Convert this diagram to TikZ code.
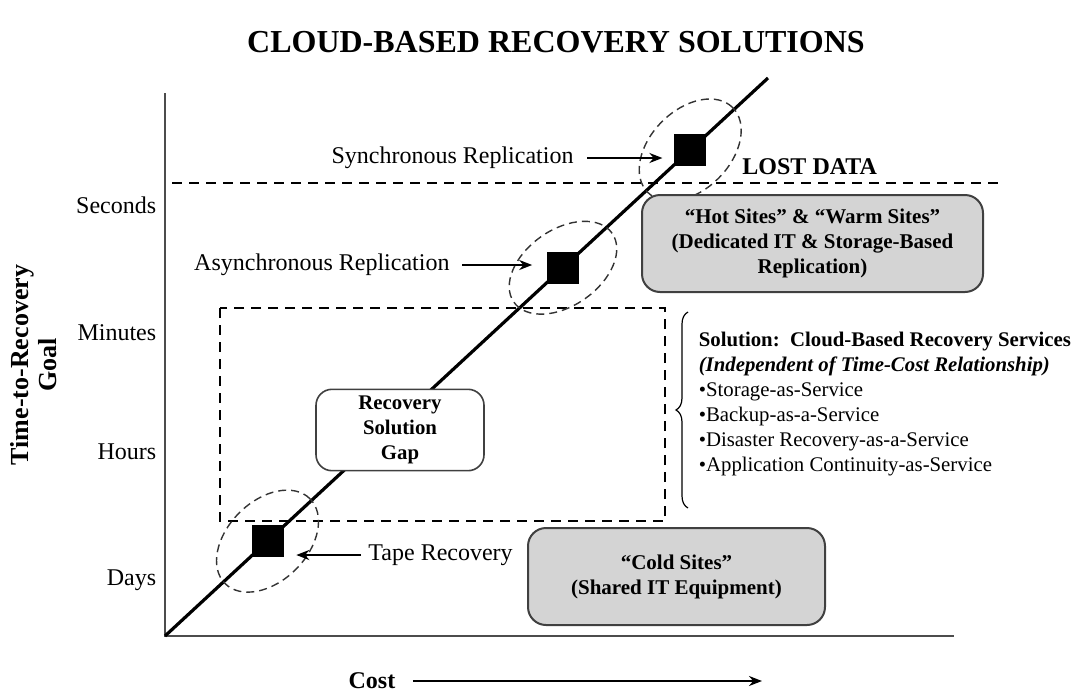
\documentclass[tikz,border=0pt]{standalone}
\usepackage{fontspec}
\setmainfont{Liberation Serif}
\usetikzlibrary{arrows,arrows.meta,positioning,decorations.pathreplacing}

\begin{document}
\begin{tikzpicture}[
    x=0.5pt, y=-0.5pt,
    thick,
    lbl/.style={font=\fontsize{12}{14}\selectfont},
    tick/.style={font=\fontsize{12}{14}\selectfont, anchor=east, inner sep=0pt},
    marker/.style={rectangle, fill=black, minimum size=16pt, inner sep=0pt},
    halo/.style={draw=black!80, line width=0.7pt, dash pattern=on 4pt off 2.5pt},
    sitebox/.style={rectangle, rounded corners=9pt, draw=black!75, line width=1pt, fill=black!17, align=center, minimum height=48.5pt, font=\bfseries\fontsize{10.5}{12.5}\selectfont},
    gapbox/.style={rectangle, rounded corners=8pt, draw=black!75, line width=0.8pt, fill=white, align=center, minimum width=84pt, minimum height=37pt, font=\bfseries\fontsize{10.4}{12.5}\selectfont},
    axis/.style={draw=black!70, line width=1pt},
    trend/.style={line width=1.6pt},
    limit/.style={line width=1pt, dash pattern=on 5pt off 3.5pt},
    arrow/.style={line width=1pt, -{Stealth[length=6.5pt,width=5pt]}}
]
\useasboundingbox (0,0) rectangle (1072,697);

% Title
\node[font=\bfseries\fontsize{16}{19}\selectfont] (title) at (556,42) {CLOUD-BASED RECOVERY SOLUTIONS};

% Axes
\coordinate (origin) at (165,636);
\coordinate (ytop) at (165,93);
\coordinate (xend) at (954,636);
\draw[axis] (ytop) -- (origin) -- (xend);

\node[rotate=90, align=center, font=\bfseries\fontsize{13}{14}\selectfont] (ytitle) at (34,365) {Time-to-Recovery\\Goal};
\node[tick] (seconds) at (157,205) {Seconds};
\node[tick] (minutes) at (157,333) {Minutes};
\node[tick] (hours) at (157,452) {Hours};
\node[tick] (days) at (157,580) {Days};

% Lost data limit
\draw[limit] (172,183) -- (1003,183);
\node[font=\bfseries\fontsize{12}{14}\selectfont, anchor=west] (lostdata) at (735,167) {LOST DATA};

% Gap region
\draw[limit] (220,308) rectangle (665,521);

% Time-cost line
\coordinate (trendtop) at (768,78);
\draw[trend] (origin) -- (trendtop);
\path (origin) -- (trendtop)
    node[marker, pos=0.17] (tapesq) {}
    node[marker, pos=0.66] (asyncsq) {}
    node[marker, pos=0.871] (syncsq) {};

\draw[halo, rotate around={45:(tapesq.center)}] (tapesq.center) ellipse [x radius=30pt, y radius=20pt];
\draw[halo, rotate around={35:(asyncsq.center)}] (asyncsq.center) ellipse [x radius=30pt, y radius=19pt];
\draw[halo, rotate around={45:(syncsq.center)}] (syncsq.center) ellipse [x radius=30pt, y radius=20pt];

% Labels
\node[lbl, anchor=east] (synclbl) at (581,158) {Synchronous Replication};
\node[lbl, anchor=east] (asynclbl) at (457,265) {Asynchronous Replication};
\node[lbl, anchor=west] (tapelbl) at (361,555) {Tape Recovery};

\draw[arrow, shorten <=3pt, shorten >=5.5pt] (synclbl.east) -- (synclbl.east -| syncsq.west);
\draw[arrow, shorten <=2.5pt, shorten >=7pt] (asynclbl.east) -- (asynclbl.east -| asyncsq.west);
\draw[arrow, shorten >=6pt] (tapelbl.west) -- (tapelbl.west -| tapesq.east);

% Boxes
\node[gapbox] (gaplbl) at (400,430) {Recovery\\Solution\\Gap};
\node[sitebox, minimum width=170.5pt] (hotsites) at (812.5,243.5) {“Hot Sites” \& “Warm Sites”\\(Dedicated IT \& Storage-Based\\Replication)};
\node[sitebox, minimum width=148.5pt] (coldsites) at (676.5,576.5) {“Cold Sites”\\(Shared IT Equipment)};

% Solution
\draw[decorate, decoration={brace, amplitude=6pt}, line width=0.6pt] (688,508) -- (688,312);
\node[anchor=north west, align=left, inner sep=0pt, font=\fontsize{10.4}{12.5}\selectfont] (solution) at (698,331)
    {\textbf{Solution:\ \ Cloud-Based Recovery Services}\\
     \textbf{\textit{(Independent of Time-Cost Relationship)}}\\
     •Storage-as-Service\\
     •Backup-as-a-Service\\
     •Disaster Recovery-as-a-Service\\
     •Application Continuity-as-Service};

% Cost axis
\node[font=\bfseries\fontsize{12}{14}\selectfont] (costlbl) at (372,681) {Cost};
\coordinate (costend) at (762,681);
\draw[arrow, shorten <=5pt] (costlbl.east) -- (costend);
\end{tikzpicture}
\end{document}
